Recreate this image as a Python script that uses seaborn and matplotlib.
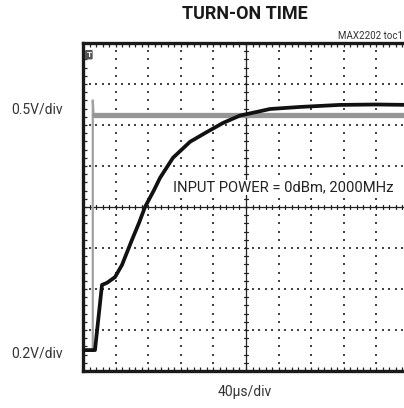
import numpy as np
import pandas as pd
import matplotlib
matplotlib.use("Agg")
import matplotlib.pyplot as plt
import seaborn as sns

# Scope capture: time in microseconds, vertical position in screen divisions
time_us_output = [0, 14.7, 23.3, 29.4, 39.3, 47.9, 60.1, 68.7, 76.1, 87.1, 94.5, 110.4,
                  131.3, 152.1, 171.8, 192.6, 213.5, 229.4, 266, 315, 360, 400]
output_div = [0.51, 0.51, 2.10, 2.15, 2.29, 2.59, 3.20, 3.61, 4.00, 4.41, 4.71, 5.20,
              5.59, 5.83, 6.05, 6.23, 6.32, 6.39, 6.44, 6.49, 6.50, 6.49]

time_us_input = [0, 12, 12, 13, 400]
input_div = [0.5, 0.5, 6.6, 6.24, 6.24]

title = "TURN-ON TIME"
note = "MAX2202 toc1"
annotation = "INPUT POWER = 0dBm, 2000MHz"
top_scale = "0.5V/div"
bottom_scale = "0.2V/div"
time_scale = "40\u00b5s/div"

US_PER_DIV = 40
N_HDIV, N_VDIV = 10, 8

sns.set_style("white")
plt.rcParams["font.family"] = ["Roboto", "DejaVu Sans"]

fig = plt.figure(figsize=(4.04, 4.08), dpi=100)
W, H = 404, 408
left, right, top, bottom = 83, 409, 43, 371
ax = fig.add_axes([left / W, 1 - bottom / H, (right - left) / W, (bottom - top) / H])

xmax = N_HDIV * US_PER_DIV
ax.set_xlim(0, xmax)
ax.set_ylim(0, N_VDIV)

# dotted graticule: dots at every fifth of a division along each major line
minor_x = np.arange(0, xmax + 1e-9, US_PER_DIV / 5)
minor_y = np.arange(0, N_VDIV + 1e-9, 0.2)
for k in range(1, N_HDIV):
    if k == N_HDIV // 2:
        continue
    ax.scatter(np.full_like(minor_y, k * US_PER_DIV), minor_y, s=1.0, color="#444444",
               marker="s", linewidths=0, zorder=1)
for k in range(1, N_VDIV):
    if k == N_VDIV // 2:
        continue
    ax.scatter(minor_x, np.full_like(minor_x, k), s=1.0, color="#444444",
               marker="s", linewidths=0, zorder=1)

# center crosshair with fine ticks
cx, cy = xmax / 2, N_VDIV / 2
ax.axvline(cx, color="#222222", lw=0.9, zorder=1)
ax.axhline(cy, color="#222222", lw=0.9, zorder=1)
tx = 0.06 * US_PER_DIV
for yv in minor_y:
    ax.plot([cx - tx, cx + tx], [yv, yv], color="#222222", lw=0.9, zorder=1)
for xv in minor_x:
    ax.plot([xv, xv], [cy - 0.06, cy + 0.06], color="#222222", lw=0.9, zorder=1)

df_in = pd.DataFrame({"t": time_us_input, "v": input_div})
df_out = pd.DataFrame({"t": time_us_output, "v": output_div})
# fast edge shows as a thin trace, the settled level as a wide noisy band
sns.lineplot(data=df_in, x="t", y="v", ax=ax, color="#a0a0a0", lw=1.6, sort=False,
             estimator=None, zorder=3)
sns.lineplot(data=df_in.iloc[3:], x="t", y="v", ax=ax, color="#969696", lw=3.8,
             sort=False, estimator=None, zorder=3)
sns.lineplot(data=df_out, x="t", y="v", ax=ax, color="#111111", lw=2.7, sort=False,
             estimator=None, zorder=4)

ax.set_xlabel("")
ax.set_ylabel("")
ax.set_xticks([])
ax.set_yticks([])
ax.set_xticks(minor_x, minor=True)
ax.set_yticks(minor_y, minor=True)
ax.tick_params(which="minor", direction="in", length=3, width=0.9, color="#222222",
               top=True, bottom=True, left=True, right=True)
ax.tick_params(labelbottom=False, labelleft=False)
for s in ax.spines.values():
    s.set_color("#1a1a1a")
    s.set_linewidth(2.4)
    s.set_visible(True)

# trigger marker
ax.text(0.018, 0.975, "T", transform=ax.transAxes, ha="center", va="top", fontsize=6,
        fontweight="bold", color="white",
        bbox=dict(boxstyle="round,pad=0.15", fc="#555555", ec="none"))

ax.text(90 / (right - left), 0.56, annotation, transform=ax.transAxes,
        fontsize=10.6, color="#222222", ha="left", va="center", zorder=5,
        bbox=dict(boxstyle="square,pad=0.05", fc="white", ec="none"))

fig.text(245 / W, 1 - 14 / H, title, ha="center", va="center", fontsize=13,
         fontweight="bold", color="#1a1a1a")
fig.text(403 / W, 1 - 36 / H, note, ha="right", va="center", fontsize=7, color="#333333")
fig.text(37 / W, 1 - 110 / H, top_scale, ha="center", va="center", fontsize=10,
         color="#333333")
fig.text(37 / W, 1 - 353 / H, bottom_scale, ha="center", va="center", fontsize=10,
         color="#333333")
fig.text(245 / W, 1 - 392 / H, time_scale, ha="center", va="center", fontsize=10,
         color="#333333")

fig.savefig("out.png", dpi=100)
